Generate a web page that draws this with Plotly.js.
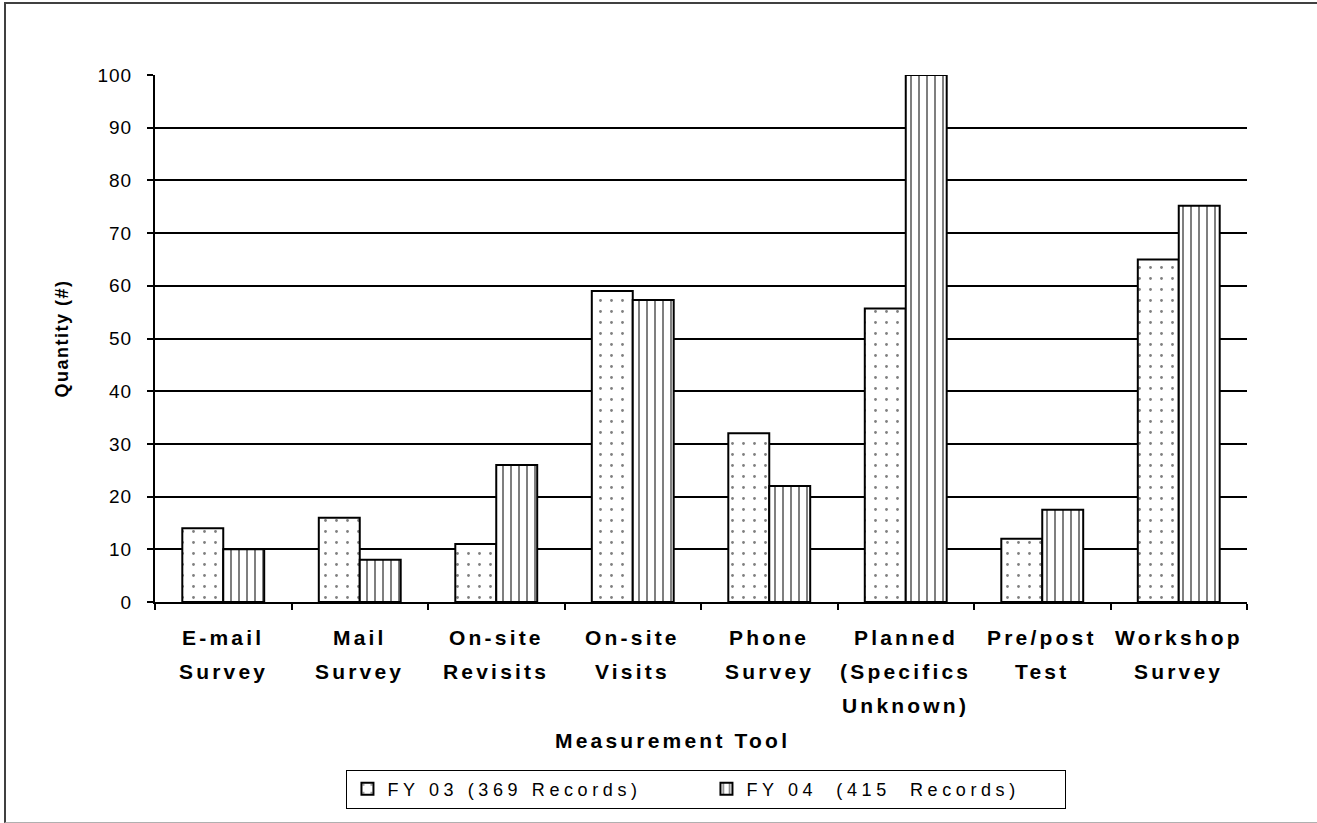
<!DOCTYPE html>
<html>
<head>
<meta charset="utf-8">
<script src="https://cdn.plot.ly/plotly-3.0.1.min.js"></script>
<style>
  html, body { margin: 0; padding: 0; background: #fff; }
  #wrap { position: relative; width: 1317px; height: 823px; }
  #chart { width: 1317px; height: 823px; }
  #frame { position: absolute; left: 4px; top: 2px; width: 1330px; height: 821px;
           border-left: 2px solid #404040; border-top: 2px solid #404040; border-bottom: 1px solid #b0b0b0;
           pointer-events: none; box-sizing: border-box; }
  .annotation-text { letter-spacing: 3.2px; }
  .legendtext { letter-spacing: 4.6px; }
  .ytick text { letter-spacing: 1px; }
  .ytitle { letter-spacing: 1.5px; }
</style>
</head>
<body>
<div id="wrap">
  <div id="chart"></div>
  <div id="frame"></div>
</div>
<script>
// ---- data ----
const categories = [
  'E-mail<br>Survey',
  'Mail<br>Survey',
  'On-site<br>Revisits',
  'On-site<br>Visits',
  'Phone<br>Survey',
  'Planned<br>(Specifics<br>Unknown)',
  'Pre/post<br>Test',
  'Workshop<br>Survey'
];
const fy03Values = [14, 16, 11, 59, 32, 55.7, 12, 65];
const fy04Values = [10, 8, 26, 57.3, 22, 100, 17.5, 75.2];
const seriesNames = ['FY 03 (369 Records)', 'FY 04  (415  Records)'];
const yTickVals = [0, 10, 20, 30, 40, 50, 60, 70, 80, 90, 100];
const gridVals = [10, 20, 30, 40, 50, 60, 70, 80, 90];
const xTitle = 'Measurement Tool';
const yTitle = 'Quantity (#)';

const FONT = 'Liberation Sans, Arial, sans-serif';

const traces = [
  {
    type: 'bar', name: seriesNames[0], x: categories, y: fy03Values,
    marker: { color: 'white', line: { color: 'black', width: 2 },
      pattern: { shape: '.', fgcolor: 'black', bgcolor: 'white', size: 11, solidity: 0.05, fillmode: 'overlay' } }
  },
  {
    type: 'bar', name: seriesNames[1], x: categories, y: fy04Values,
    marker: { color: 'white', line: { color: 'black', width: 2 },
      pattern: { shape: '|', fgcolor: 'black', bgcolor: 'white', size: 8, solidity: 0.25, fillmode: 'overlay' } }
  },
  // invisible carrier for the grid axis
  { type: 'scatter', x: [categories[0]], y: [0], yaxis: 'y2', mode: 'markers',
    marker: { opacity: 0 }, showlegend: false, hoverinfo: 'skip' }
];

// category labels, one annotation per line
const annotations = [];
categories.forEach(c => {
  c.split('<br>').forEach((line, i) => {
    annotations.push({
      x: c, xref: 'x', y: 0, yref: 'paper', yanchor: 'middle', xanchor: 'center',
      yshift: -(35 + 34 * i), text: line, showarrow: false,
      font: { family: FONT, size: 21, color: 'black', weight: 'bold' }
    });
  });
});
annotations.push({
  x: 0.474, xref: 'paper', y: 0, yref: 'paper', yanchor: 'middle', xanchor: 'center',
  yshift: -138, text: xTitle, showarrow: false,
  font: { family: FONT, size: 21, color: 'black', weight: 'bold' }
});

const layout = {
  width: 1317, height: 823,
  margin: { l: 155, r: 70, t: 75, b: 221 },
  paper_bgcolor: 'white', plot_bgcolor: 'white',
  barmode: 'group', bargap: 0.4, bargroupgap: 0,
  showlegend: true,
  legend: {
    orientation: 'h', x: 0.505, xanchor: 'center', y: -0.318, yanchor: 'top',
    bordercolor: 'black', borderwidth: 1, bgcolor: 'white',
    font: { family: FONT, size: 18, color: 'black' },
    traceorder: 'normal', entrywidth: 314, itemwidth: 30
  },
  xaxis: {
    type: 'category', showticklabels: false, showline: true, linecolor: 'black', linewidth: 2,
    ticks: 'outside', tickson: 'boundaries', ticklen: 6, tickwidth: 2, tickcolor: 'black',
    showgrid: false, zeroline: false, fixedrange: true
  },
  yaxis: {
    range: [0, 100], tickvals: yTickVals, ticks: 'outside', ticklen: 6, tickwidth: 2, tickcolor: 'black',
    showline: true, linecolor: 'black', linewidth: 2, showgrid: false, zeroline: false,
    tickfont: { family: FONT, size: 19, color: 'black' }, ticklabelstandoff: 11,
    title: { text: yTitle, font: { family: FONT, size: 18, color: 'black', weight: 'bold' }, standoff: 24 },
    fixedrange: true
  },
  yaxis2: {
    overlaying: 'y', anchor: 'x', side: 'left', range: [0, 100], tickvals: gridVals,
    showticklabels: false, ticks: '', showline: false, zeroline: false,
    showgrid: true, gridcolor: 'black', gridwidth: 2, fixedrange: true
  },
  annotations: annotations
};

Plotly.newPlot('chart', traces, layout, { displayModeBar: false, staticPlot: true });
</script>
</body>
</html>
